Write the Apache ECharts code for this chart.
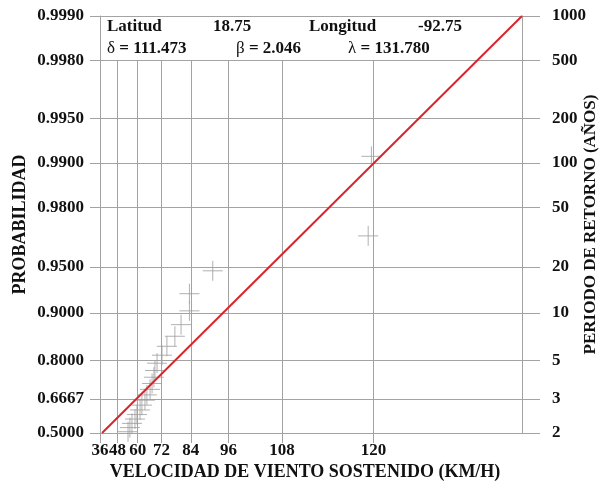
<!DOCTYPE html>
<html>
<head>
<meta charset="utf-8">
<script src="https://cdn.jsdelivr.net/npm/echarts@6/dist/echarts.min.js"></script>
<style>
html,body{margin:0;padding:0;background:#fff;}
#chart{width:603px;height:490px;}
</style>
</head>
<body>
<div id="chart"></div>
<script>
// ---- data ----
const LAMBDA = 131.78;            // upper bound parameter (λ) used by the plot scale
const probTicks = [0.5, 0.6667, 0.8, 0.9, 0.95, 0.98, 0.99, 0.995, 0.998, 0.999];
const probLabels = ['0.5000', '0.6667', '0.8000', '0.9000', '0.9500', '0.9800', '0.9900', '0.9950', '0.9980', '0.9990'];
const periodLabels = ['2', '3', '5', '10', '20', '50', '100', '200', '500', '1000'];
const speedTicks = [36, 48, 60, 72, 84, 96, 108, 120];
const speedMin = 36, speedMax = 128;

const obsSpeed = [54.5, 55.6, 56.8, 58.5, 59.6, 61.3, 62.3, 63.9, 64.9, 66.5, 67.5, 68.4, 68.9, 69.9, 72.2, 74.4, 77.8, 80.3, 83.5, 83.5, 91.4, 119.5, 119.8];
const obsProb  = [0.507, 0.529, 0.551, 0.573, 0.595, 0.617, 0.639, 0.661, 0.683, 0.705, 0.727, 0.749, 0.771, 0.793, 0.815, 0.837, 0.859, 0.881, 0.903, 0.925, 0.947, 0.969, 0.991];

const fitSpeed = [37.5, 128];
const fitProb  = [0.5, 0.999];

// ---- scales (probability paper) ----
const gx = v => -Math.log(LAMBDA - v);
const gy = p => -Math.log(-Math.log(p));

function lookup(val, vals, labels) {
  let best = 0, bd = Infinity;
  vals.forEach((v, i) => { const d = Math.abs(v - val); if (d < bd) { bd = d; best = i; } });
  return bd < 1e-6 ? labels[best] : '';
}
const yVals = probTicks.map(gy);
const xVals = speedTicks.map(gx);
const xLabels = speedTicks.map(String);

const FONT = '"Liberation Serif", "Times New Roman", serif';
const GRID = '#a3a3a3';

const chart = echarts.init(document.getElementById('chart'), null, {renderer: 'canvas'});
const yBase = {
  type: 'value',
  min: gy(0.5), max: gy(0.999),
  axisLine: {show: true, lineStyle: {color: GRID, width: 1}},
  splitLine: {show: true, lineStyle: {color: GRID, width: 1}},
};
chart.setOption({
  backgroundColor: '#fff',
  animation: false,
  grid: {left: 100, right: 81, top: 16, bottom: 57, containLabel: false, outerBoundsMode: 'none'},
  xAxis: {
    type: 'value',
    min: gx(speedMin), max: gx(speedMax),
    name: 'VELOCIDAD DE VIENTO SOSTENIDO (KM/H)',
    nameLocation: 'middle', nameGap: 30, nameMoveOverlap: false,
    nameTextStyle: {fontFamily: FONT, fontWeight: 'bold', fontSize: 18, color: '#111', padding: [0, 12, 0, 0]},
    axisLine: {show: true, lineStyle: {color: GRID}},
    axisTick: {show: true, length: 10, customValues: xVals, lineStyle: {color: GRID}},
    axisLabel: {customValues: xVals, margin: 9, showMinLabel: true, hideOverlap: false,
      fontFamily: FONT, fontWeight: 'bold', fontSize: 17, color: '#111',
      formatter: v => lookup(v, xVals, xLabels)},
    splitLine: {show: true, lineStyle: {color: GRID}}
  },
  yAxis: [
    Object.assign({}, yBase, {
      position: 'left',
      name: 'PROBABILIDAD', nameLocation: 'middle', nameGap: 71, nameRotate: 90, nameMoveOverlap: false,
      nameTextStyle: {fontFamily: FONT, fontWeight: 'bold', fontSize: 18, color: '#111'},
      axisTick: {show: true, length: 10, customValues: yVals, lineStyle: {color: GRID}},
      axisLabel: {customValues: yVals, margin: 16, showMinLabel: true, showMaxLabel: true,
        fontFamily: FONT, fontWeight: 'bold', fontSize: 17, color: '#111',
        formatter: v => lookup(v, yVals, probLabels)}
    }),
    Object.assign({}, yBase, {
      position: 'right',
      name: 'PERIODO DE RETORNO (AÑOS)', nameLocation: 'middle', nameGap: 60, nameRotate: 90, nameMoveOverlap: false,
      nameTextStyle: {fontFamily: FONT, fontWeight: 'bold', fontSize: 17, color: '#111'},
      axisTick: {show: true, length: 18, customValues: yVals, lineStyle: {color: GRID}},
      axisLabel: {customValues: yVals, margin: 30, showMinLabel: true, showMaxLabel: true,
        fontFamily: FONT, fontWeight: 'bold', fontSize: 17, color: '#111',
        formatter: v => lookup(v, yVals, periodLabels)}
    })
  ],
  graphic: [
    {type: 'rect', left: 101, top: 17, z: 1, shape: {width: 420, height: 43}, style: {fill: '#fff'}},
    {type: 'text', left: 107, top: 18, z: 10, style: {text: 'Latitud', font: 'bold 17px ' + FONT, fill: '#111'}},
    {type: 'text', left: 213, top: 18, z: 10, style: {text: '18.75', font: 'bold 17px ' + FONT, fill: '#111'}},
    {type: 'text', left: 309, top: 18, z: 10, style: {text: 'Longitud', font: 'bold 17px ' + FONT, fill: '#111'}},
    {type: 'text', left: 418, top: 18, z: 10, style: {text: '-92.75', font: 'bold 17px ' + FONT, fill: '#111'}},
    {type: 'text', left: 107, top: 40, z: 10, style: {text: '{g|δ} = 111.473', font: 'bold 17px ' + FONT, fill: '#111',
      rich: {g: {font: '17px ' + FONT, fill: '#111'}}}},
    {type: 'text', left: 236, top: 40, z: 10, style: {text: '{g|β} = 2.046', font: 'bold 17px ' + FONT, fill: '#111',
      rich: {g: {font: '17px ' + FONT, fill: '#111'}}}},
    {type: 'text', left: 348, top: 40, z: 10, style: {text: '{g|λ} = 131.780', font: 'bold 17px ' + FONT, fill: '#111',
      rich: {g: {font: '17px ' + FONT, fill: '#111'}}}}
  ],
  series: [
    {
      type: 'scatter',
      yAxisIndex: 0,
      z: 3,
      clip: false,
      symbol: 'path://M0,10L20,10M10,0L10,20',
      symbolSize: 20,
      itemStyle: {color: 'transparent', borderColor: '#9c9c9c', borderWidth: 1},
      data: obsSpeed.map((v, i) => [gx(v), gy(obsProb[i])])
    },
    {
      type: 'line',
      yAxisIndex: 0,
      z: 4,
      symbol: 'none',
      lineStyle: {color: '#d7262b', width: 2},
      data: fitSpeed.map((v, i) => [gx(v), gy(fitProb[i])])
    }
  ]
});
</script>
</body>
</html>
